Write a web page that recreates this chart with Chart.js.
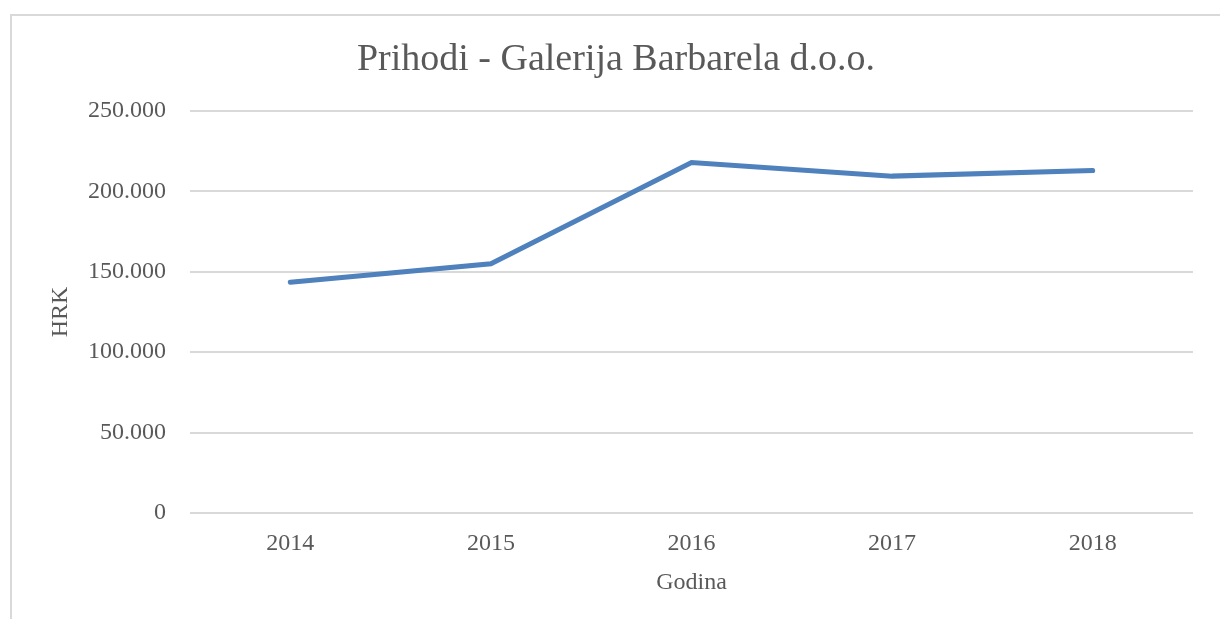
<!DOCTYPE html>
<html>
<head>
<meta charset="utf-8">
<title>Prihodi - Galerija Barbarela d.o.o.</title>
<script src="https://cdn.jsdelivr.net/npm/chart.js@4/dist/chart.umd.min.js"></script>
<style>
    html, body { margin: 0; padding: 0; background: #fff; overflow: hidden; }
    .frame {
        position: absolute;
        left: 10px;
        top: 14px;
        width: 1300px;
        height: 700px;
        border: 2px solid #d9d9d9;
    }
    #chart { position: absolute; left: 0; top: 0; }
</style>
</head>
<body>
<div class="frame"></div>
<canvas id="chart" width="1232" height="619"></canvas>
<script>
// --- Data ---
const years = ["2014", "2015", "2016", "2017", "2018"];
const revenue = [143500, 155000, 218000, 209500, 213000];
const yTicks = [0, 50000, 100000, 150000, 200000, 250000];

const textColor = "#595959";
const fontFamily = "'Liberation Serif', 'DejaVu Serif', serif";

// thousands with a dot, like the Croatian original
const formatHRK = (v) => String(v).replace(/\B(?=(\d{3})+(?!\d))/g, ".");

// --- Chart ---
const ctx = document.getElementById("chart").getContext("2d");

new Chart(ctx, {
    type: "line",
    data: {
        labels: years,
        datasets: [{
            label: "Prihodi",
            data: revenue,
            borderColor: "#4f81bd",
            borderWidth: 5,
            borderCapStyle: "round",
            tension: 0,
            pointRadius: 0,
            fill: false
        }]
    },
    options: {
        responsive: false,
        animation: false,
        plugins: {
            legend: { display: false },
            tooltip: { enabled: false },
            title: {
                display: true,
                text: "Prihodi - Galerija Barbarela d.o.o.",
                color: textColor,
                font: { family: fontFamily, size: 38, weight: "normal", lineHeight: 1.2 },
                padding: { top: 37, bottom: 28.4 }
            }
        },
        scales: {
            x: {
                offset: true,
                afterFit: (scale) => { scale.height = 106; },
                grid: { display: false, drawTicks: false },
                border: { display: false },
                ticks: {
                    color: textColor,
                    padding: 16,
                    font: { family: fontFamily, size: 24, lineHeight: 1.2 }
                },
                title: {
                    display: true,
                    text: "Godina",
                    color: textColor,
                    font: { family: fontFamily, size: 24, lineHeight: 1.2 },
                    padding: { top: 11, bottom: 22 }
                }
            },
            y: {
                min: 0,
                max: 250000,
                afterFit: (scale) => { scale.width = 190; },
                afterBuildTicks: (scale) => { scale.ticks = yTicks.map(v => ({ value: v })); },
                grid: { color: "#d9d9d9", lineWidth: 2, drawTicks: false },
                border: { display: false },
                ticks: {
                    color: textColor,
                    padding: 24,
                    font: { family: fontFamily, size: 24, lineHeight: 1.2 },
                    callback: (value) => formatHRK(value)
                },
                title: {
                    display: true,
                    text: "HRK",
                    color: textColor,
                    font: { family: fontFamily, size: 24, lineHeight: 1.2 },
                    padding: { top: 46, bottom: 0 }
                }
            },
            // empty right-hand strip so the title stays centred on the whole frame
            yRight: {
                position: "right",
                afterFit: (scale) => { scale.width = 39; },
                grid: { display: false, drawTicks: false },
                border: { display: false },
                ticks: { display: false }
            }
        }
    }
});
</script>
</body>
</html>
